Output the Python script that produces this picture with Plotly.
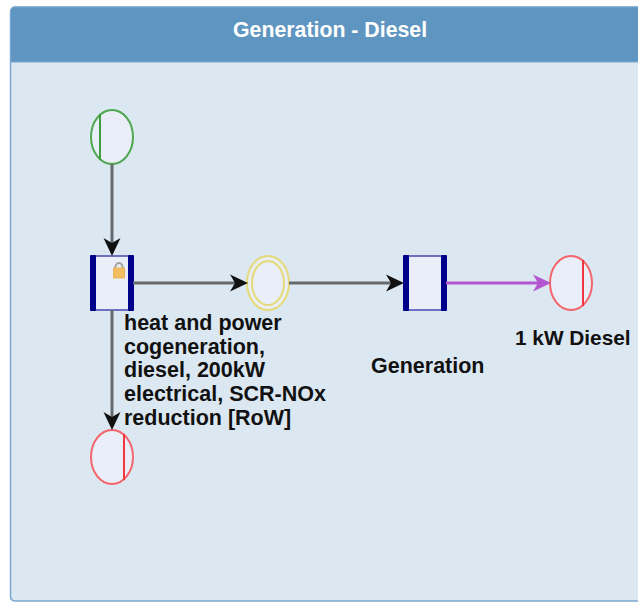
import plotly.graph_objects as go

TITLE = "Generation - Diesel"

# node centres (px)
FLOW_X = [112, 268, 425, 571]
FLOW_Y = 283
SOURCE_Y = 137
OUTPUT_Y = 457

ELLIPSE_RX = 21
ELLIPSE_RY = 27
BOX_HALF_W = 21
BOX_HALF_H = 27

EDGES = [
    ((112, 164), (112, 256), "#666a6e", "#111111"),
    ((133, 283), (248, 283), "#666a6e", "#111111"),
    ((289, 283), (404, 283), "#666a6e", "#111111"),
    ((446, 283), (551, 283), "#b455d1", "#b455d1"),
    ((112, 310), (112, 430), "#666a6e", "#111111"),
]

PROCESS_LINES = [
    "heat and power",
    "cogeneration,",
    "diesel, 200kW",
    "electrical, SCR-NOx",
    "reduction [RoW]",
]
PROCESS_X = 122.5
PROCESS_Y = [323, 347, 370, 394, 418]
LABELS = [
    ("Generation", 369.5, 366, 21.5),
    ("1 kW Diesel", 513.5, 337, 20.8),
]

FILL = "#e9eef8"
GREEN = "#4fa74f"
RED = "#f4666c"
YELLOW = "#e5da78"
NAVY = "#00008b"

shapes = []


def rounded(x0, y0, x1, y1, r, top_only=False):
    bottom = (
        f"L{x1},{y1} L{x0},{y1} "
        if top_only
        else f"L{x1},{y1-r} Q{x1},{y1} {x1-r},{y1} L{x0+r},{y1} Q{x0},{y1} {x0},{y1-r} "
    )
    return f"M{x0},{y0+r} Q{x0},{y0} {x0+r},{y0} L{x1-r},{y0} Q{x1},{y0} {x1},{y0+r} {bottom}Z"


def ellipse(cx, cy, rx, ry, color, width=2):
    shapes.append(
        dict(
            type="circle",
            x0=cx - rx,
            x1=cx + rx,
            y0=cy - ry,
            y1=cy + ry,
            fillcolor=FILL,
            line=dict(color=color, width=width),
        )
    )


def bar(cx, cy, color):
    shapes.append(
        dict(
            type="line",
            x0=cx,
            x1=cx,
            y0=cy - ELLIPSE_RY + 4,
            y1=cy + ELLIPSE_RY - 4,
            line=dict(color=color, width=2),
        )
    )


def box(cx, cy):
    x0, x1 = cx - BOX_HALF_W, cx + BOX_HALF_W
    y0, y1 = cy - BOX_HALF_H, cy + BOX_HALF_H
    shapes.append(
        dict(
            type="path",
            path=rounded(x0, y0, x1, y1, 2),
            fillcolor=FILL,
            line=dict(color="#6f6fc4", width=2),
        )
    )
    for bx0, bx1 in [(x0 - 1, x0 + 5), (x1 - 5, x1 + 1)]:
        shapes.append(
            dict(
                type="path",
                path=rounded(bx0, y0 - 1, bx1, y1 + 1, 1),
                fillcolor=NAVY,
                line=dict(width=0),
            )
        )


def edge(start, end, line_color, head_color):
    (x0, y0), (x1, y1) = start, end
    dx = (x1 > x0) - (x1 < x0)
    dy = (y1 > y0) - (y1 < y0)
    shapes.append(
        dict(
            type="line",
            x0=x0,
            y0=y0,
            x1=x1 - dx * 8,
            y1=y1 - dy * 8,
            line=dict(color=line_color, width=3),
        )
    )
    # concave arrow head
    back, wing, notch = 18, 8.5, 13
    px, py = -dy, dx
    shapes.append(
        dict(
            type="path",
            path=(
                f"M{x1},{y1} "
                f"L{x1-dx*back+px*wing},{y1-dy*back+py*wing} "
                f"L{x1-dx*notch},{y1-dy*notch} "
                f"L{x1-dx*back-px*wing},{y1-dy*back-py*wing} Z"
            ),
            fillcolor=head_color,
            line=dict(width=0),
        )
    )


# panel
shapes.append(
    dict(
        type="path",
        path=rounded(10.5, 7, 660, 601, 5),
        fillcolor="#dce8f1",
        line=dict(color="#7ba8d0", width=1.5),
    )
)
shapes.append(
    dict(
        type="path",
        path=rounded(10.5, 7, 660, 62, 5, top_only=True),
        fillcolor="#5f96c1",
        line=dict(color="#7ba8d0", width=1),
    )
)

# nodes
ellipse(FLOW_X[0], SOURCE_Y, ELLIPSE_RX, ELLIPSE_RY, GREEN)
bar(FLOW_X[0] - 12, SOURCE_Y, "#3c9e3c")
box(FLOW_X[0], FLOW_Y)
ellipse(FLOW_X[1], FLOW_Y, ELLIPSE_RX, ELLIPSE_RY, YELLOW)
ellipse(FLOW_X[1], FLOW_Y, ELLIPSE_RX - 5, ELLIPSE_RY - 5, YELLOW)
box(FLOW_X[2], FLOW_Y)
ellipse(FLOW_X[3], FLOW_Y, ELLIPSE_RX, ELLIPSE_RY, RED)
bar(FLOW_X[3] + 12, FLOW_Y, "#f2363f")
ellipse(FLOW_X[0], OUTPUT_Y, ELLIPSE_RX, ELLIPSE_RY, RED)
bar(FLOW_X[0] + 12, OUTPUT_Y, "#f2363f")

for start, end, line_color, head_color in EDGES:
    edge(start, end, line_color, head_color)

# lock icon on the first process
shapes.append(
    dict(
        type="circle",
        x0=115,
        x1=123,
        y0=263,
        y1=275,
        line=dict(color="#a3a39a", width=2),
    )
)
shapes.append(
    dict(
        type="rect",
        x0=113.5,
        x1=124.5,
        y0=268,
        y1=278,
        fillcolor="#f3bd62",
        line=dict(color="#e9b458", width=1),
    )
)

fig = go.Figure()

annotations = [
    dict(
        x=330,
        y=30,
        text=f"<b>{TITLE}</b>",
        showarrow=False,
        xanchor="center",
        yanchor="middle",
        font=dict(family="Liberation Sans", size=21.3, color="#ffffff"),
    )
]
placed = [(t, PROCESS_X, y, 21.5) for t, y in zip(PROCESS_LINES, PROCESS_Y)] + LABELS
for text, x, y, size in placed:
    annotations.append(
        dict(
            x=x,
            y=y,
            text=f"<b>{text}</b>",
            showarrow=False,
            xanchor="left",
            yanchor="middle",
            borderpad=0,
            font=dict(family="Liberation Sans", size=size, color="#111111"),
        )
    )

fig.update_xaxes(range=[0, 638], visible=False)
fig.update_yaxes(range=[602, 0], visible=False)
fig.update_layout(
    width=638,
    height=602,
    margin=dict(l=0, r=0, t=0, b=0),
    paper_bgcolor="#ffffff",
    plot_bgcolor="#ffffff",
    showlegend=False,
    shapes=shapes,
    annotations=annotations,
)

# drop the page's default body margin so the figure fills the window
fig.write_html(
    "out.html",
    config={"displayModeBar": False},
    post_script="document.body.style.margin='0';",
)
